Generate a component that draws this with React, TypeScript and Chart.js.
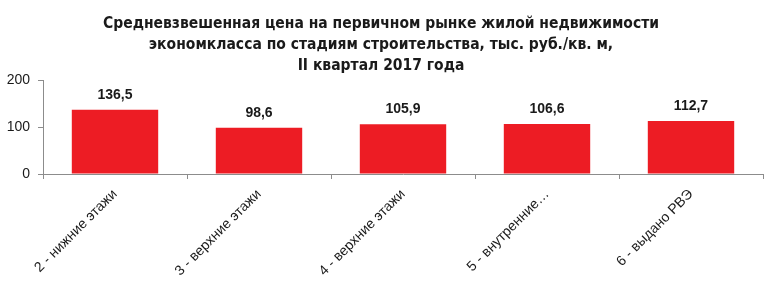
import React, { useEffect, useRef } from "react";
import { Chart, registerables } from "chart.js";

Chart.register(...registerables);

const titleLines = [
  "Средневзвешенная цена на первичном рынке жилой недвижимости",
  "экономкласса по стадиям строительства, тыс. руб./кв. м,",
  "II квартал 2017 года",
];
const categories = [
  "2 - нижние этажи",
  "3 - верхние этажи",
  "4 - верхние этажи",
  "5 - внутренние…",
  "6 - выдано РВЭ",
];
const values = [136.5, 98.6, 105.9, 106.6, 112.7];
const yMin = 0;
const yMax = 200;
const yStep = 100;

const W = 774;
const H = 289;
const BAR_COLOR = "#ED1C24";
const AXIS_COLOR = "#8C8C8C";
const TEXT_COLOR = "#1a1a1a";
const TITLE_FONT = "bold 15.5px 'Liberation Sans Narrow', 'DejaVu Sans Condensed', 'Liberation Sans', sans-serif";

const fmt = (v: number) => v.toFixed(1).replace(".", ",");

const titlePlugin = {
  id: "customTitle",
  afterDraw(chart: any) {
    const ctx = chart.ctx;
    ctx.save();
    ctx.font = TITLE_FONT;
    ctx.fillStyle = TEXT_COLOR;
    ctx.textAlign = "center";
    ctx.textBaseline = "middle";
    titleLines.forEach((line, i) => {
      ctx.fillText(line, 381, 24 + i * 21);
    });
    ctx.restore();
  },
};

const valueLabelPlugin = {
  id: "valueLabels",
  afterDatasetsDraw(chart: any) {
    const ctx = chart.ctx;
    const meta = chart.getDatasetMeta(0);
    ctx.save();
    ctx.font = "bold 14px 'Liberation Sans', Arial, sans-serif";
    ctx.fillStyle = TEXT_COLOR;
    ctx.textAlign = "center";
    ctx.textBaseline = "middle";
    meta.data.forEach((bar: any, i: number) => {
      ctx.fillText(fmt(values[i]), bar.x, bar.y - 15);
    });
    ctx.restore();
  },
};

export default function App() {
  const ref = useRef<HTMLCanvasElement | null>(null);

  useEffect(() => {
    if (!ref.current) return;
    const chart = new Chart(ref.current, {
      type: "bar",
      data: {
        labels: categories,
        datasets: [
          {
            data: values,
            backgroundColor: BAR_COLOR,
            borderWidth: 0,
            categoryPercentage: 1,
            barPercentage: 0.6,
          },
        ],
      },
      options: {
        animation: false,
        responsive: false,
        maintainAspectRatio: false,
        layout: { padding: { top: 80, right: 11, left: 0, bottom: 0 } },
        plugins: {
          legend: { display: false },
          title: { display: false },
          tooltip: { enabled: false },
        },
        scales: {
          x: {
            grid: {
              drawOnChartArea: false,
              drawTicks: true,
              tickLength: 5,
              color: AXIS_COLOR,
              offset: true,
            },
            border: { color: AXIS_COLOR, width: 1 },
            ticks: {
              minRotation: 45,
              maxRotation: 45,
              autoSkip: false,
              padding: 7,
              color: TEXT_COLOR,
              font: { family: "'Liberation Sans', Arial, sans-serif", size: 14 },
            },
            afterFit(scale: any) {
              scale.height = 115;
              scale.paddingLeft = 0;
              scale.paddingRight = 0;
            },
          },
          y: {
            min: yMin,
            max: yMax,
            grid: {
              drawOnChartArea: false,
              drawTicks: true,
              tickLength: 5,
              color: AXIS_COLOR,
            },
            border: { color: AXIS_COLOR, width: 1 },
            ticks: {
              stepSize: yStep,
              padding: 8,
              color: TEXT_COLOR,
              font: { family: "'Liberation Sans', Arial, sans-serif", size: 14 },
            },
            afterFit(scale: any) {
              scale.width = 43;
            },
          },
        },
      },
      plugins: [titlePlugin, valueLabelPlugin],
    } as any);
    return () => chart.destroy();
  }, []);

  return (
    <div style={{ position: "fixed", left: 0, top: 0, width: W, height: H, background: "#fff" }}>
      <canvas ref={ref} width={W} height={H} style={{ width: W, height: H, display: "block" }} />
    </div>
  );
}
